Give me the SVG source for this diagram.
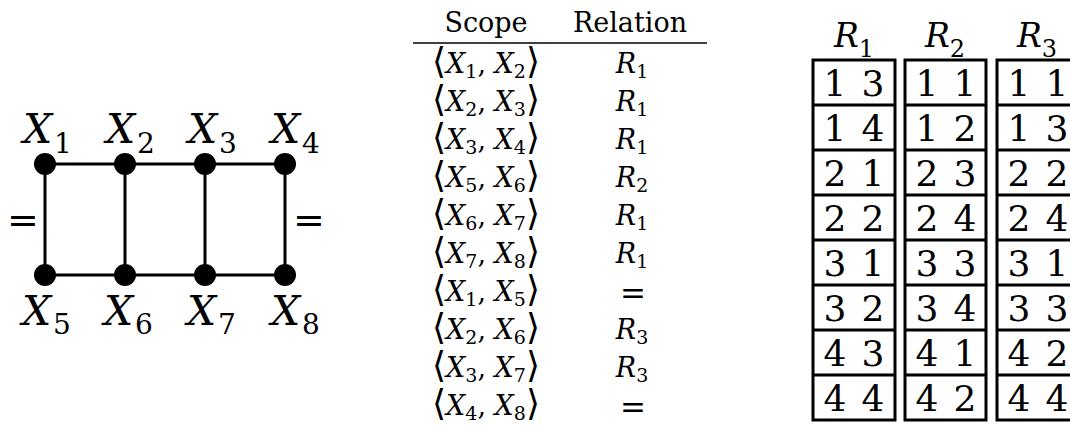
<svg xmlns="http://www.w3.org/2000/svg" width="1070" height="426" viewBox="0 0 1070 426" font-family="'DejaVu Serif', serif">
<style>
  text { font-family: 'DejaVu Serif', serif; fill: #000; }
  .it { font-style: italic; }
  .gl { font-size: 41px; }
  .gs { font-size: 28px; }
  .eq { font-size: 38px; }
  .hd { font-size: 27px; }
  .m { font-size: 27px; }
  .ms { font-size: 19px; }
  .br { font-size: 36px; }
  .meq { font-size: 31px; }
  .dg { font-size: 36px; }
  .rh { font-size: 33px; }
  .rs { font-size: 24px; }
  .edge { stroke: #000; stroke-width: 3; fill: none; }
  .node { fill: #000; }
  .box { stroke: #000; stroke-width: 3; fill: #fff; }
  .div { stroke: #000; stroke-width: 3; }
  .rule { stroke: #000; stroke-width: 1.3; }
</style>

<!-- Connectors -->
<g id="connectors">
  <line class="edge" x1="45" y1="164" x2="285" y2="164"/>
  <line class="edge" x1="45" y1="275" x2="285" y2="275"/>
  <line class="edge" x1="45" y1="164" x2="45" y2="275"/>
  <line class="edge" x1="125" y1="164" x2="125" y2="275"/>
  <line class="edge" x1="205" y1="164" x2="205" y2="275"/>
  <line class="edge" x1="285" y1="164" x2="285" y2="275"/>
  <text class="eq" x="23" y="233" text-anchor="middle">=</text>
  <text class="eq" x="309" y="233" text-anchor="middle">=</text>
</g>

<!-- Nodes -->
<g id="node-X1"><circle class="node" cx="45" cy="164" r="11"/><text class="gl it" x="23" y="143">X</text><text class="gs" x="54" y="153">1</text></g>
<g id="node-X2"><circle class="node" cx="125" cy="164" r="11"/><text class="gl it" x="106" y="143">X</text><text class="gs" x="137" y="153">2</text></g>
<g id="node-X3"><circle class="node" cx="205" cy="164" r="11"/><text class="gl it" x="188" y="143">X</text><text class="gs" x="219" y="153">3</text></g>
<g id="node-X4"><circle class="node" cx="285" cy="164" r="11"/><text class="gl it" x="271" y="143">X</text><text class="gs" x="302" y="153">4</text></g>
<g id="node-X5"><circle class="node" cx="45" cy="275" r="11"/><text class="gl it" x="22" y="325">X</text><text class="gs" x="53" y="334">5</text></g>
<g id="node-X6"><circle class="node" cx="125" cy="275" r="11"/><text class="gl it" x="104" y="325">X</text><text class="gs" x="135" y="334">6</text></g>
<g id="node-X7"><circle class="node" cx="205" cy="275" r="11"/><text class="gl it" x="187" y="325">X</text><text class="gs" x="218" y="334">7</text></g>
<g id="node-X8"><circle class="node" cx="285" cy="275" r="11"/><text class="gl it" x="271" y="325">X</text><text class="gs" x="302" y="334">8</text></g>

<!-- Scope / Relation table -->
<g id="constraint-table">
  <text class="hd" x="486" y="32" text-anchor="middle">Scope</text>
  <text class="hd" x="630" y="32" text-anchor="middle">Relation</text>
  <line class="rule" x1="413" y1="43" x2="707" y2="43"/>

  <text class="m" x="486" y="73" text-anchor="middle"><tspan class="br">⟨</tspan><tspan class="it">X</tspan><tspan class="ms" dy="5">1</tspan><tspan dy="-5">, </tspan><tspan class="it">X</tspan><tspan class="ms" dy="5">2</tspan><tspan class="br" dy="-5">⟩</tspan></text>
  <text class="m" x="486" y="111" text-anchor="middle"><tspan class="br">⟨</tspan><tspan class="it">X</tspan><tspan class="ms" dy="5">2</tspan><tspan dy="-5">, </tspan><tspan class="it">X</tspan><tspan class="ms" dy="5">3</tspan><tspan class="br" dy="-5">⟩</tspan></text>
  <text class="m" x="486" y="149" text-anchor="middle"><tspan class="br">⟨</tspan><tspan class="it">X</tspan><tspan class="ms" dy="5">3</tspan><tspan dy="-5">, </tspan><tspan class="it">X</tspan><tspan class="ms" dy="5">4</tspan><tspan class="br" dy="-5">⟩</tspan></text>
  <text class="m" x="486" y="187" text-anchor="middle"><tspan class="br">⟨</tspan><tspan class="it">X</tspan><tspan class="ms" dy="5">5</tspan><tspan dy="-5">, </tspan><tspan class="it">X</tspan><tspan class="ms" dy="5">6</tspan><tspan class="br" dy="-5">⟩</tspan></text>
  <text class="m" x="486" y="225" text-anchor="middle"><tspan class="br">⟨</tspan><tspan class="it">X</tspan><tspan class="ms" dy="5">6</tspan><tspan dy="-5">, </tspan><tspan class="it">X</tspan><tspan class="ms" dy="5">7</tspan><tspan class="br" dy="-5">⟩</tspan></text>
  <text class="m" x="486" y="263" text-anchor="middle"><tspan class="br">⟨</tspan><tspan class="it">X</tspan><tspan class="ms" dy="5">7</tspan><tspan dy="-5">, </tspan><tspan class="it">X</tspan><tspan class="ms" dy="5">8</tspan><tspan class="br" dy="-5">⟩</tspan></text>
  <text class="m" x="486" y="301" text-anchor="middle"><tspan class="br">⟨</tspan><tspan class="it">X</tspan><tspan class="ms" dy="5">1</tspan><tspan dy="-5">, </tspan><tspan class="it">X</tspan><tspan class="ms" dy="5">5</tspan><tspan class="br" dy="-5">⟩</tspan></text>
  <text class="m" x="486" y="339" text-anchor="middle"><tspan class="br">⟨</tspan><tspan class="it">X</tspan><tspan class="ms" dy="5">2</tspan><tspan dy="-5">, </tspan><tspan class="it">X</tspan><tspan class="ms" dy="5">6</tspan><tspan class="br" dy="-5">⟩</tspan></text>
  <text class="m" x="486" y="377" text-anchor="middle"><tspan class="br">⟨</tspan><tspan class="it">X</tspan><tspan class="ms" dy="5">3</tspan><tspan dy="-5">, </tspan><tspan class="it">X</tspan><tspan class="ms" dy="5">7</tspan><tspan class="br" dy="-5">⟩</tspan></text>
  <text class="m" x="486" y="415" text-anchor="middle"><tspan class="br">⟨</tspan><tspan class="it">X</tspan><tspan class="ms" dy="5">4</tspan><tspan dy="-5">, </tspan><tspan class="it">X</tspan><tspan class="ms" dy="5">8</tspan><tspan class="br" dy="-5">⟩</tspan></text>

  <text class="m" x="632" y="73" text-anchor="middle"><tspan class="it">R</tspan><tspan class="ms" dy="5">1</tspan></text>
  <text class="m" x="632" y="111" text-anchor="middle"><tspan class="it">R</tspan><tspan class="ms" dy="5">1</tspan></text>
  <text class="m" x="632" y="149" text-anchor="middle"><tspan class="it">R</tspan><tspan class="ms" dy="5">1</tspan></text>
  <text class="m" x="632" y="187" text-anchor="middle"><tspan class="it">R</tspan><tspan class="ms" dy="5">2</tspan></text>
  <text class="m" x="632" y="225" text-anchor="middle"><tspan class="it">R</tspan><tspan class="ms" dy="5">1</tspan></text>
  <text class="m" x="632" y="263" text-anchor="middle"><tspan class="it">R</tspan><tspan class="ms" dy="5">1</tspan></text>
  <text class="meq" x="633" y="304" text-anchor="middle">=</text>
  <text class="m" x="632" y="339" text-anchor="middle"><tspan class="it">R</tspan><tspan class="ms" dy="5">3</tspan></text>
  <text class="m" x="632" y="377" text-anchor="middle"><tspan class="it">R</tspan><tspan class="ms" dy="5">3</tspan></text>
  <text class="meq" x="633" y="418" text-anchor="middle">=</text>
</g>

<!-- Relation R1 -->
<g id="relation-R1">
  <text x="854" y="47" text-anchor="middle"><tspan class="rh it">R</tspan><tspan class="rs" dy="10">1</tspan></text>
  <rect class="box" x="813" y="60" width="82" height="360"/>
  <path class="div" d="M813 105H895M813 150H895M813 195H895M813 240H895M813 285H895M813 330H895M813 375H895"/>
  <g class="dg" text-anchor="middle">
    <text x="835" y="96">1</text><text x="873" y="96">3</text>
    <text x="835" y="141">1</text><text x="873" y="141">4</text>
    <text x="835" y="186">2</text><text x="873" y="186">1</text>
    <text x="835" y="231">2</text><text x="873" y="231">2</text>
    <text x="835" y="276">3</text><text x="873" y="276">1</text>
    <text x="835" y="321">3</text><text x="873" y="321">2</text>
    <text x="835" y="366">4</text><text x="873" y="366">3</text>
    <text x="835" y="411">4</text><text x="873" y="411">4</text>
  </g>
</g>

<!-- Relation R2 -->
<g id="relation-R2">
  <text x="945" y="47" text-anchor="middle"><tspan class="rh it">R</tspan><tspan class="rs" dy="10">2</tspan></text>
  <rect class="box" x="905" y="60" width="81" height="360"/>
  <path class="div" d="M905 105H986M905 150H986M905 195H986M905 240H986M905 285H986M905 330H986M905 375H986"/>
  <g class="dg" text-anchor="middle">
    <text x="927" y="96">1</text><text x="965" y="96">1</text>
    <text x="927" y="141">1</text><text x="965" y="141">2</text>
    <text x="927" y="186">2</text><text x="965" y="186">3</text>
    <text x="927" y="231">2</text><text x="965" y="231">4</text>
    <text x="927" y="276">3</text><text x="965" y="276">3</text>
    <text x="927" y="321">3</text><text x="965" y="321">4</text>
    <text x="927" y="366">4</text><text x="965" y="366">1</text>
    <text x="927" y="411">4</text><text x="965" y="411">2</text>
  </g>
</g>

<!-- Relation R3 -->
<g id="relation-R3">
  <text x="1037" y="47" text-anchor="middle"><tspan class="rh it">R</tspan><tspan class="rs" dy="10">3</tspan></text>
  <rect class="box" x="997" y="60" width="82" height="360"/>
  <path class="div" d="M997 105H1079M997 150H1079M997 195H1079M997 240H1079M997 285H1079M997 330H1079M997 375H1079"/>
  <g class="dg" text-anchor="middle">
    <text x="1019" y="96">1</text><text x="1057" y="96">1</text>
    <text x="1019" y="141">1</text><text x="1057" y="141">3</text>
    <text x="1019" y="186">2</text><text x="1057" y="186">2</text>
    <text x="1019" y="231">2</text><text x="1057" y="231">4</text>
    <text x="1019" y="276">3</text><text x="1057" y="276">1</text>
    <text x="1019" y="321">3</text><text x="1057" y="321">3</text>
    <text x="1019" y="366">4</text><text x="1057" y="366">2</text>
    <text x="1019" y="411">4</text><text x="1057" y="411">4</text>
  </g>
</g>
</svg>
